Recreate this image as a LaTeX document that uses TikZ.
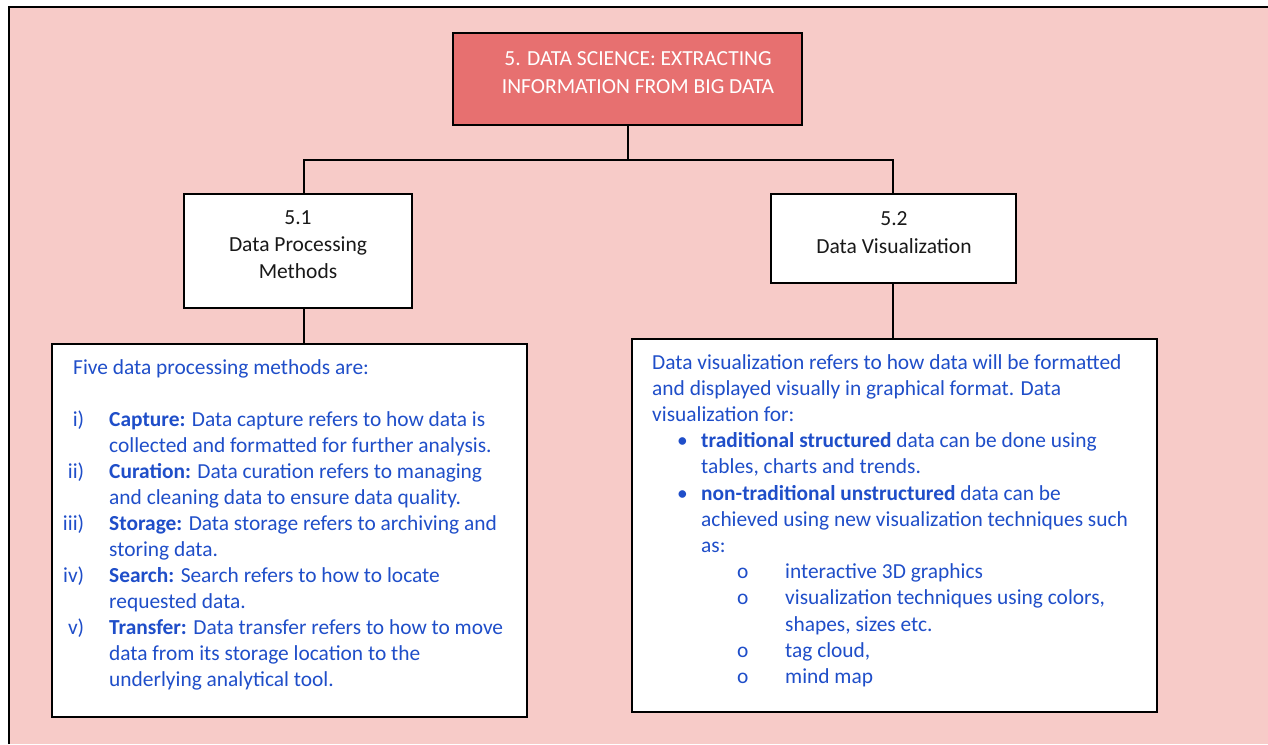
\documentclass[tikz,border=0pt]{standalone}
\usepackage{fontspec}
\setmainfont{Carlito}
\usepackage{array}
\definecolor{bgpink}{RGB}{247,203,200}
\definecolor{toprd}{RGB}{231,112,112}
\definecolor{txtblue}{RGB}{31,78,201}
\definecolor{hdrgray}{RGB}{25,25,25}
\begin{document}
\begin{tikzpicture}[x=1pt,y=-1pt,
  boxst/.style={draw=black,line width=2pt,fill=white,inner sep=0pt},
  conn/.style={draw=black,line width=2pt,line cap=rect},
  bodytxt/.style={inner sep=0pt,anchor=base west,text=txtblue,font=\fontsize{21.4}{26}\selectfont},
  hdrtxt/.style={inner sep=0pt,anchor=base,font=\fontsize{21.5}{28}\selectfont}]
\useasboundingbox (0,0) rectangle (1268,744);
\fill[white] (0,0) rectangle (1268,744);
\fill[bgpink] (9,7) rectangle (1268,744);
\draw[line width=2pt] (9,744) -- (9,7) -- (1268,7);

% boxes
\node[boxst,fill=toprd,minimum width=349pt,minimum height=92pt] (top) at (627.5,79) {};
\node[boxst,minimum width=228pt,minimum height=114pt] (b51) at (298,251) {};
\node[boxst,minimum width=245pt,minimum height=89pt] (b52) at (893.5,238.5) {};
\node[boxst,minimum width=475pt,minimum height=373pt] (lbox) at (289.5,530.5) {};
\node[boxst,minimum width=525pt,minimum height=373pt] (rbox) at (894.5,525.5) {};

% connectors
\coordinate (jl) at (304,160);
\coordinate (jr) at (893,160);
\draw[conn] (top.south) -- (top.south |- jl);
\draw[conn] (jl) -- (jr);
\draw[conn] (jl) -- (jl |- b51.north);
\draw[conn] (jr) -- (jr |- b52.north);
\draw[conn] (b51.south -| jl) -- (jl |- lbox.north);
\draw[conn] (b52.south -| jr) -- (jr |- rbox.north);

% header texts
\node[hdrtxt,text=white] (toptxt) at (638,65) {\begin{tabular}[t]{@{}c@{}}5. DATA SCIENCE: EXTRACTING\\INFORMATION FROM BIG DATA\end{tabular}};
\node[hdrtxt,text=hdrgray,font=\fontsize{21.5}{27}\selectfont] (b51txt) at (298,224) {\begin{tabular}[t]{@{}c@{}}5.1\\Data Processing\\Methods\end{tabular}};
\node[hdrtxt,text=hdrgray] (b52txt) at (894,225) {\begin{tabular}[t]{@{}c@{}}5.2\\Data Visualization\end{tabular}};

% left body
\node[bodytxt] (ltxt) at (84,374) {\begin{tabular}[t]{@{}l@{\hspace{25pt}}l@{}}
\multicolumn{2}{@{}l@{}}{\hspace*{-11pt}Five data processing methods are:}\\
 & \\
\llap{i)} & \textbf{Capture:} Data capture refers to how data is\\
 & collected and formatted for further analysis.\\
\llap{ii)} & \textbf{Curation:} Data curation refers to managing\\
 & and cleaning data to ensure data quality.\\
\llap{iii)} & \textbf{Storage:} Data storage refers to archiving and\\
 & storing data.\\
\llap{iv)} & \textbf{Search:} Search refers to how to locate\\
 & requested data.\\
\llap{v)} & \textbf{Transfer:} Data transfer refers to how to move\\
 & data from its storage location to the\\
 & underlying analytical tool.
\end{tabular}};

% right body
\node[bodytxt,font=\fontsize{21.4}{26.2}\selectfont] (rtxt) at (652,369) {\begin{tabular}[t]{@{}l@{}}
Data visualization refers to how data will be formatted\\
and displayed visually in graphical format. Data\\
visualization for:\\
\hspace*{25pt}\makebox[24pt][l]{•}\textbf{traditional structured} data can be done using\\
\hspace*{49pt}tables, charts and trends.\\
\hspace*{25pt}\makebox[24pt][l]{•}\textbf{non-traditional unstructured} data can be\\
\hspace*{49pt}achieved using new visualization techniques such\\
\hspace*{49pt}as:\\
\hspace*{85pt}\makebox[48pt][l]{o}interactive 3D graphics\\
\hspace*{85pt}\makebox[48pt][l]{o}visualization techniques using colors,\\
\hspace*{133pt}shapes, sizes etc.\\
\hspace*{85pt}\makebox[48pt][l]{o}tag cloud,\\
\hspace*{85pt}\makebox[48pt][l]{o}mind map
\end{tabular}};
\end{tikzpicture}
\end{document}
